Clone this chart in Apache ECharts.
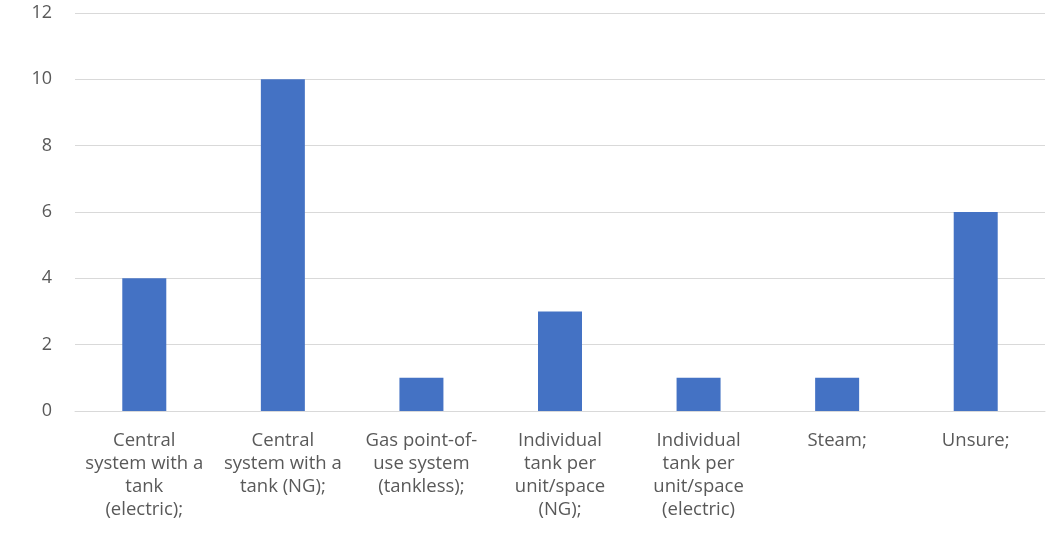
<!DOCTYPE html>
<html><head><meta charset="utf-8">
<script src="https://cdn.jsdelivr.net/npm/echarts@6/dist/echarts.min.js"></script>
<style>html,body{margin:0;padding:0;background:#fff}#c{width:1064px;height:548px}</style>
</head><body><div id="c"></div>
<script>
const categories = [
  "Central\nsystem with a\ntank\n(electric);",
  "Central\nsystem with a\ntank (NG);",
  "Gas point-of-\nuse system\n(tankless);",
  "Individual\ntank per\nunit/space\n(NG);",
  "Individual\ntank per\nunit/space\n(electric)",
  "Steam;",
  "Unsure;"
];
const values = [4, 10, 1, 3, 1, 1, 6];
const yTicks = {min: 0, max: 12, interval: 2};

const chart = echarts.init(document.getElementById('c'), null, {renderer: 'canvas'});
chart.setOption({
  animation: false,
  grid: {left: 75, right: 19, top: 13, bottom: 137, containLabel: false},
  xAxis: {
    type: 'category', data: categories,
    axisLine: {lineStyle: {color: '#d9d9d9', width: 1}},
    axisTick: {show: false},
    axisLabel: {color: '#595959', fontFamily: 'Open Sans', fontSize: 18.5, lineHeight: 23, margin: 18, interval: 0}
  },
  yAxis: {
    type: 'value', min: yTicks.min, max: yTicks.max, interval: yTicks.interval,
    axisLine: {show: false}, axisTick: {show: false},
    splitLine: {lineStyle: {color: '#d9d9d9', width: 1}},
    axisLabel: {color: '#595959', fontFamily: 'Open Sans', fontSize: 18, margin: 23}
  },
  series: [{type: 'bar', data: values, barWidth: 44, itemStyle: {color: '#4472c4'}}]
});
</script></body></html>
